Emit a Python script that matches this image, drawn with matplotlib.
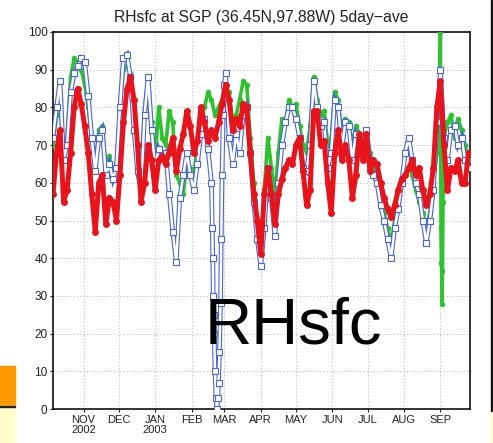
import numpy as np
import matplotlib
matplotlib.use('Agg')
import matplotlib.pyplot as plt
from matplotlib.patches import Rectangle
from datetime import date

plt.rcParams['font.family'] = ['Liberation Sans', 'DejaVu Sans']

# ── data: 5-day running mean of surface RH (%), sampled every 3 days ─────────
START = date(2002, 10, 6)
STEP = 3

red_rh = [57, 68, 74, 55, 58, 68, 80, 85, 81, 75, 68, 57, 47, 60, 62, 49, 56, 55, 50, 62,
          76, 85, 88, 82, 70, 55, 60, 70, 66, 58, 66, 67, 65, 68, 72, 63, 69, 73, 79, 75,
          68, 71, 80, 76, 71, 74, 72, 76, 81, 86, 82, 74, 77, 75, 81, 80, 68, 57, 50, 41,
          57, 64, 57, 49, 57, 61, 64, 66, 65, 70, 72, 63, 54, 58, 79, 79, 70, 71, 60, 52,
          68, 74, 66, 70, 66, 56, 62, 73, 66, 73, 63, 66, 65, 60, 56, 53, 51, 54, 58, 61,
          62, 64, 66, 62, 64, 58, 54, 57, 64, 80, 87, 70, 58, 64, 63, 66, 60, 60, 68]

green_rh = [70, 78, 82, 66, 72, 88, 93, 92, 90, 86, 80, 72, 64, 74, 75, 64, 67, 62, 65, 80,
            90, 91, 89, 76, 66, 62, 80, 88, 76, 66, 80, 72, 70, 79, 76, 62, 60, 57, 66, 64,
            62, 70, 76, 80, 84, 82, 78, 80, 82, 84, 84, 76, 78, 82, 87, 86, 72, 60, 50, 44,
            58, 72, 64, 57, 68, 77, 76, 82, 80, 81, 75, 70, 68, 75, 88, 82, 78, 79, 70, 72,
            84, 82, 72, 77, 76, 70, 75, 73, 71, 74, 68, 64, 62, 56, 52, 48, 44, 50, 55, 60,
            62, 64, 62, 58, 55, 52, 48, 52, 60, 68, 100, 72, 76, 78, 72, 77, 74, 70, 66]

blue_rh = [72, 80, 87, 66, 70, 84, 89, 91, 93, 92, 83, 72, 63, 72, 74, 62, 65, 61, 64, 80,
           93, 94, 88, 74, 63, 58, 78, 88, 74, 64, 69, 67, 68, 57, 47, 39, 56, 62, 68, 62,
           58, 65, 73, 77, 69, 60, 10, 7, 62, 89, 72, 65, 73, 68, 78, 80, 68, 55, 45, 38,
           48, 64, 56, 46, 60, 70, 76, 80, 80, 77, 72, 64, 63, 70, 87, 80, 75, 76, 64, 68,
           82, 80, 69, 76, 75, 66, 73, 71, 68, 74, 66, 62, 60, 54, 50, 45, 40, 48, 53, 60,
           68, 72, 66, 60, 57, 50, 44, 50, 58, 76, 90, 72, 66, 74, 75, 70, 72, 66, 64]

# extra samples through the sharp dropout around 1 March
blue_dip_day = [135.7, 136.1, 136.5, 136.9, 137.3, 138.8, 139.7, 140.4,
                141.8, 142.7, 143.3, 145.0, 145.9]
blue_dip_rh = [48, 40, 30, 25, 20, 3, 0, 3, 15, 28, 45, 78, 86]

# extra samples through the spike at the start of September
green_spike_day = [329.3, 330.5, 330.8, 331.2, 331.5, 332.2]
green_spike_rh = [85, 48, 38.7, 36.6, 27.8, 55]

month_starts = [date(2002, 11, 1), date(2002, 12, 1), date(2003, 1, 1), date(2003, 2, 1),
                date(2003, 3, 1), date(2003, 4, 1), date(2003, 5, 1), date(2003, 6, 1),
                date(2003, 7, 1), date(2003, 8, 1), date(2003, 9, 1)]
month_labels = ['NOV\n2002', 'DEC', 'JAN\n2003', 'FEB', 'MAR', 'APR', 'MAY', 'JUN',
                'JUL', 'AUG', 'SEP']
y_ticks = list(range(0, 101, 10))


def series(vals, extra_day=(), extra_val=()):
    d = np.concatenate([np.arange(len(vals)) * STEP, np.asarray(extra_day, float)])
    v = np.concatenate([np.asarray(vals, float), np.asarray(extra_val, float)])
    o = np.argsort(d, kind='stable')
    return d[o], v[o]


# ── figure ───────────────────────────────────────────────────────────────────
fig = plt.figure(figsize=(4.93, 4.43), dpi=100, facecolor='white')
ax = fig.add_axes([53 / 493, 1 - 409 / 443, 417 / 493, 377 / 443])

gd, gv = series(green_rh, green_spike_day, green_spike_rh)
bd, bv = series(blue_rh, blue_dip_day, blue_dip_rh)
rd, rv = series(red_rh)

BLUE = '#4a66d8'
# green: filled dots on a thick stroke
ax.plot(gd, gv, '-', color='#2ec22e', lw=2.6, solid_capstyle='round', zorder=3)
ax.plot(gd, gv, 'o', color='#2ec22e', ms=4.0, mew=0, zorder=3)
# blue: open squares; a hollow stroke underneath gives the stacked-box look
ax.plot(bd, bv, '-', color=BLUE, lw=3.4, solid_joinstyle='miter', zorder=4)
ax.plot(bd, bv, '-', color='white', lw=1.8, zorder=4)
ax.plot(bd, bv, 's', ms=3.8, mfc='white', mec=BLUE, mew=0.8, zorder=4)
# red: dense filled dots
ax.plot(rd, rv, '-', color='#e8141b', lw=3.6, solid_capstyle='round', zorder=5)
ax.plot(rd, rv, 'o', color='#e8141b', ms=5.0, mew=0, zorder=5)

tick_days = [(m - START).days for m in month_starts]
ax.set_xticks(tick_days)
ax.set_xticklabels(month_labels, fontsize=8, linespacing=1.0)
ax.set_yticks(y_ticks)
ax.set_yticklabels([str(t) for t in y_ticks], fontsize=8.5)
ax.set_xlim(0, 355.2)
ax.set_ylim(0, 100)
ax.tick_params(direction='out', length=2.5, width=0.8, pad=1.5, colors='#222222')

ax.grid(True, color='#b8b8b8', lw=0.6, ls=(0, (1.5, 2.5)))
ax.set_axisbelow(True)
for s in ax.spines.values():
    s.set_linewidth(1.2)
    s.set_color('#111111')

fig.text(261.5 / 493, 1 - 22 / 443, 'RHsfc at SGP (36.45N,97.88W) 5day\u2212ave',
         ha='center', va='baseline', fontsize=11.3, color='#222222')

# big overlay label
fig.text(205 / 493, 1 - 343 / 443, 'RHsfc', ha='left', va='baseline',
         fontsize=47, color='black', zorder=10)

# slide bits at the edges
fig.patches.append(Rectangle((0, 1 - 405 / 443), 15 / 493, 39 / 443,
                             transform=fig.transFigure, color='#ff9900', zorder=0))
fig.patches.append(Rectangle((0, 0), 15 / 493, 37 / 443,
                             transform=fig.transFigure, color='#ffffcc', zorder=0))
fig.patches.append(Rectangle((0, 1 - 407 / 443), 15 / 493, 1.5 / 443,
                             transform=fig.transFigure, color='#222222', zorder=1))
fig.patches.append(Rectangle((491 / 493, 1 - 412 / 443), 1.5 / 493, 412 / 443,
                             transform=fig.transFigure, color='#111111', zorder=1))
fig.patches.append(Rectangle((491 / 493, 0), 2 / 493, 31 / 443,
                             transform=fig.transFigure, color='#ffffcc', zorder=1))

fig.savefig('out.png', dpi=100, facecolor='white')
plt.close(fig)
